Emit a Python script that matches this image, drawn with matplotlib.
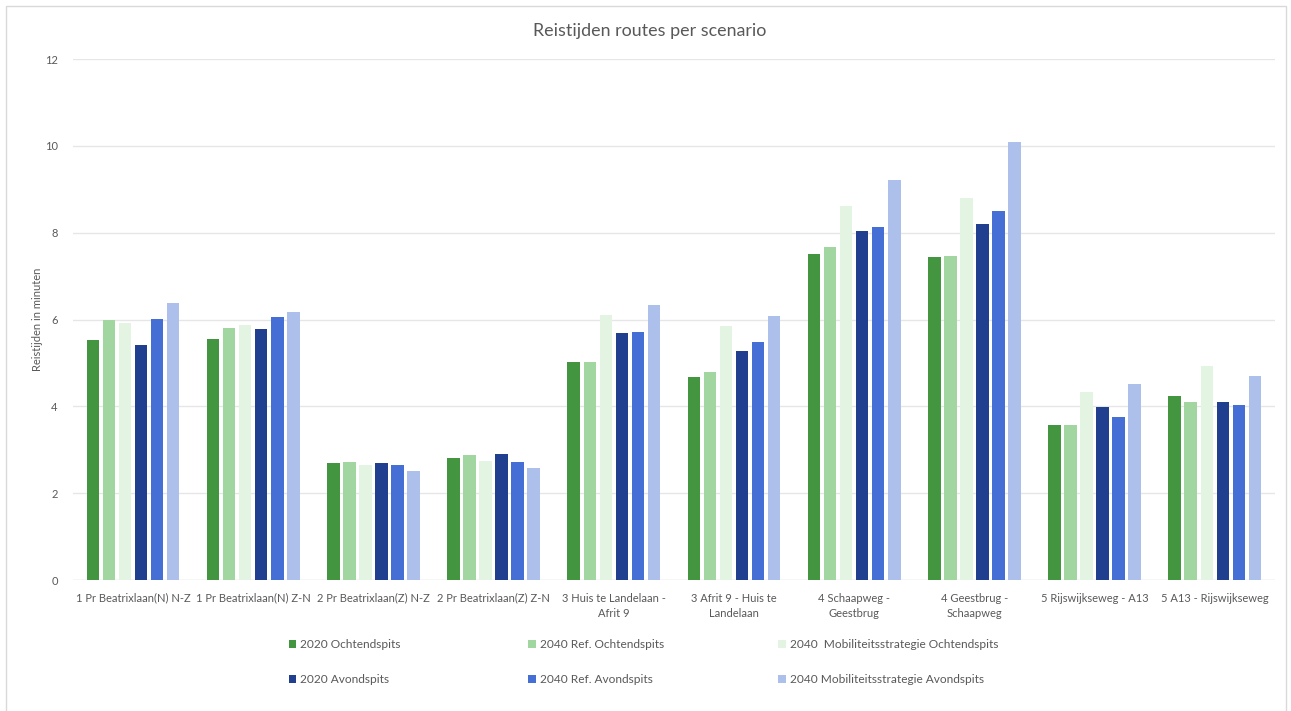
import matplotlib
matplotlib.use("Agg")
import matplotlib.pyplot as plt
import numpy as np
from matplotlib.patches import Rectangle, Patch

plt.rcParams['font.family'] = ['Lato', 'DejaVu Sans']

categories = [
    "1 Pr Beatrixlaan(N) N-Z",
    "1 Pr Beatrixlaan(N) Z-N",
    "2 Pr Beatrixlaan(Z) N-Z",
    "2 Pr Beatrixlaan(Z) Z-N",
    "3 Huis te Landelaan -\nAfrit 9",
    "3 Afrit 9 - Huis te\nLandelaan",
    "4 Schaapweg -\nGeestbrug",
    "4 Geestbrug -\nSchaapweg",
    "5 Rijswijkseweg - A13",
    "5 A13 - Rijswijkseweg",
]

series_names = [
    "2020 Ochtendspits",
    "2040 Ref. Ochtendspits",
    "2040  Mobiliteitsstrategie Ochtendspits",
    "2020 Avondspits",
    "2040 Ref. Avondspits",
    "2040 Mobiliteitsstrategie Avondspits",
]

s2020_ochtend = [5.53, 5.56, 2.70, 2.82, 5.02, 4.68, 7.51, 7.44, 3.58, 4.25]
s2040_ref_ochtend = [5.98, 5.81, 2.73, 2.88, 5.02, 4.80, 7.66, 7.47, 3.56, 4.09]
s2040_mob_ochtend = [5.93, 5.88, 2.64, 2.75, 6.10, 5.84, 8.62, 8.80, 4.32, 4.92]
s2020_avond = [5.41, 5.79, 2.69, 2.90, 5.70, 5.28, 8.03, 8.20, 3.99, 4.09]
s2040_ref_avond = [6.01, 6.05, 2.66, 2.73, 5.71, 5.48, 8.14, 8.51, 3.75, 4.03]
s2040_mob_avond = [6.39, 6.18, 2.50, 2.57, 6.33, 6.07, 9.22, 10.10, 4.52, 4.71]

series = [s2020_ochtend, s2040_ref_ochtend, s2040_mob_ochtend,
          s2020_avond, s2040_ref_avond, s2040_mob_avond]
colors = ["#43963F", "#A2D6A0", "#E3F4E2", "#213F8F", "#456FD5", "#ADC0EC"]

yticks = [0, 2, 4, 6, 8, 10, 12]
text_color = "#595959"

fig = plt.figure(figsize=(12.91, 7.11), dpi=100)
fig.patches.append(Rectangle((0.0047, -0.05), 0.9915, 1.0418, transform=fig.transFigure,
                             fill=False, edgecolor="#D9D9D9", linewidth=1))
ax = fig.add_axes([0.0565, 0.1842, 0.931, 0.7328])

x = np.arange(len(categories))
step = 0.8 / len(series)
bw = 0.104
for i, (vals, c, name) in enumerate(zip(series, colors, series_names)):
    ax.bar(x + (i - 2.5) * step, vals, width=bw, color=c, label=name, zorder=3)

ax.set_xlim(-0.5, len(categories) - 0.5)
ax.set_ylim(0, 12)
ax.set_yticks(yticks)
ax.set_yticklabels([str(t) for t in yticks], fontsize=8, color=text_color)
ax.set_xticks(x)
ax.set_xticklabels(categories, fontsize=8, color=text_color, linespacing=1.5)
ax.tick_params(axis='both', length=0)
ax.tick_params(axis='x', pad=9)
ax.tick_params(axis='y', pad=11)
ax.grid(axis='y', color="#E6E6E6", linewidth=1, zorder=0)
for sp in ax.spines.values():
    sp.set_visible(False)
ax.axhline(0, color="#E6E6E6", linewidth=1, zorder=2)

ax.set_ylabel("Reistijden in minuten", fontsize=8, color=text_color, labelpad=1)
fig.text(0.5035, 0.957, "Reistijden routes per scenario", ha='center', va='center',
         fontsize=12.9, color=text_color)

# legend in three columns
col_x = [0.2235, 0.4090, 0.6025]
for col in range(3):
    handles = [Patch(facecolor=colors[col + 3 * r]) for r in range(2)]
    labels = [series_names[col + 3 * r] for r in range(2)]
    leg = fig.legend(handles, labels, loc='upper left', bbox_to_anchor=(col_x[col], 0.101),
                     frameon=False, fontsize=8.6, handlelength=0.65, handleheight=0.65,
                     handletextpad=0.35, labelspacing=2.0, borderpad=0, borderaxespad=0)
    for t in leg.get_texts():
        t.set_color(text_color)

fig.savefig("out.png", dpi=100)
